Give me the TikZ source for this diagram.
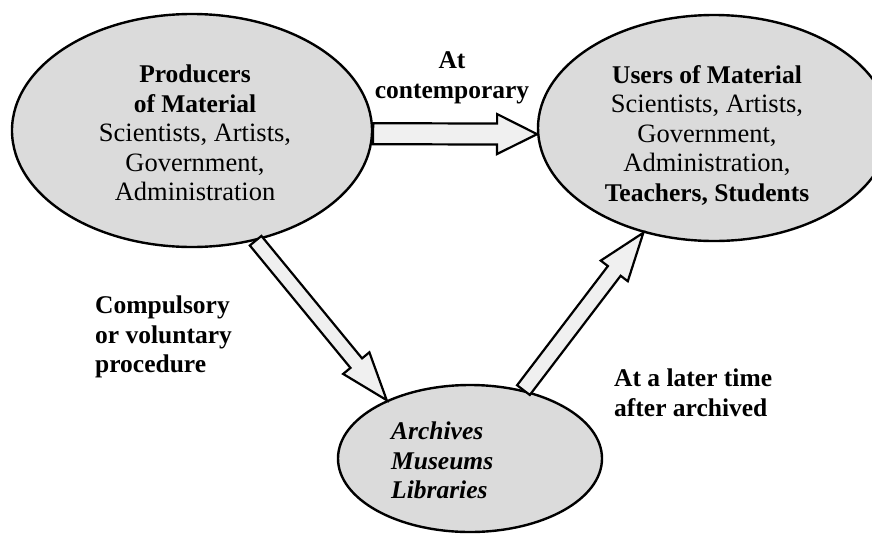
\documentclass[tikz,border=0pt]{standalone}
\usepackage{fontspec}
\setmainfont{Liberation Serif}
\usetikzlibrary{shapes.geometric,calc}
\tikzset{
  bubble/.style={ellipse, draw=black, line width=2.4pt, fill=black!14, inner sep=0pt},
  arrowbox/.style={draw=black, line width=2.2pt, fill=black!6, line join=miter},
  lbl/.style={inner sep=0pt, font=\fontsize{25.5}{29.5}\selectfont\bfseries},
  txt/.style={inner sep=0pt, align=center, font=\fontsize{26.5}{29.5}\selectfont},
}
\newcommand\bl[1]{{\fontsize{25.5}{29.5}\selectfont\bfseries #1}}
% start, end, shaft half width, head half width, head length
\newcommand\blockarr[5]{%
  \path ($(#2)!#5!(#1)$) coordinate (hb);
  \draw[arrowbox] ($(#1)!#3!90:(#2)$) -- ($(hb)!#3!90:(#2)$) -- ($(hb)!#4!90:(#2)$) -- (#2)
     -- ($(hb)!#4!-90:(#2)$) -- ($(hb)!#3!-90:(#2)$) -- ($(#1)!#3!-90:(#2)$) -- cycle;
}
\begin{document}
\begin{tikzpicture}[x=1pt,y=-1pt]
\path[use as bounding box] (0,0) rectangle (872,536);
\clip (0,0) rectangle (872,536);
% bubbles
\node[bubble, minimum width=360pt, minimum height=233pt] (prod) at (192,130.5) {};
\node[bubble, minimum width=352pt, minimum height=226pt] (users) at (714,128) {};
\node[bubble, minimum width=264pt, minimum height=147pt] (arch) at (470,458.5) {};
% arrows
\blockarr{prod.-1}{users.182}{10.5pt}{20pt}{40pt}
\blockarr{prod.-60}{arch.145}{7.5pt}{17pt}{48pt}
\blockarr{arch.52}{users.236}{8pt}{17pt}{48pt}
% texts
\node[txt] (prodtxt) at (195,133) {\bl{Producers}\\\bl{of Material}\\Scientists, Artists,\\Government,\\Administration};
\node[txt] (usertxt) at (707,135) {\bl{Users of Material}\\Scientists, Artists,\\Government,\\Administration,\\\bl{Teachers, Students}};
\node[lbl, align=left, anchor=west, font=\fontsize{25.5}{29.5}\selectfont\bfseries\itshape] (archtxt) at (391,460.5) {Archives\\Museums\\Libraries};
\node[lbl, align=center] (contemp) at (452,78) {At\\contemporary};
\node[lbl, align=left, anchor=west] (comp) at (95,337) {Compulsory\\or voluntary\\procedure};
\node[lbl, align=left, anchor=west] (later) at (614,393) {At a later time\\after archived};
\end{tikzpicture}
\end{document}
